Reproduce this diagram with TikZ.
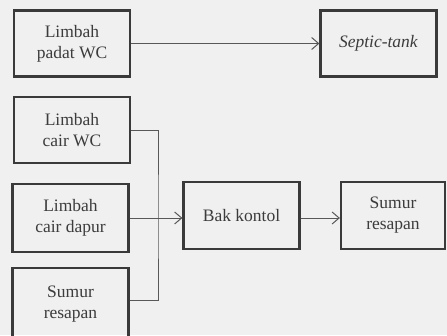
\documentclass[tikz,border=0pt]{standalone}
\usepackage{fontspec}
\setmainfont{Liberation Serif}
\usetikzlibrary{arrows.meta}

\definecolor{bggray}{HTML}{F0F0F0}
\definecolor{boxline}{HTML}{3A3A3A}
\definecolor{textgray}{HTML}{3C3C3C}

\begin{document}
\begin{tikzpicture}[
  x=1pt, y=-1pt,
  box/.style={rectangle, draw=boxline, line width=2.2pt, minimum width=116pt, minimum height=66pt,
    align=center, text=textgray, font=\fontsize{17.5}{21}\selectfont, inner sep=0pt},
  arrow/.style={-{Straight Barb[length=7pt,width=12pt]}, draw=boxline!85, line width=1pt},
  line/.style={draw=boxline!85, line width=1pt}
]

% Background
\fill[bggray] (0,0) rectangle (447,335);
\useasboundingbox (0,0) rectangle (447,335);

% Nodes
\node[box] (padat) at (72,43.5) {Limbah\\padat WC};
\node[box] (septic) at (378.5,43.5) {\textit{Septic-tank}};
\node[box] (cairwc) at (72,130) {Limbah\\cair WC};
\node[box, minimum height=68pt] (dapur) at (70.5,218) {Limbah\\cair dapur};
\node[box, minimum height=72pt] (sumurl) at (70.5,304) {Sumur\\resapan};
\node[box, minimum height=67pt] (bak) at (241.5,215.5) {Bak kontol};
\node[box, minimum height=67pt, minimum width=104pt] (sumurr) at (393,215.5) {Sumur\\resapan};
\coordinate (bus) at (158,218);

% Connectors
\draw[arrow] (padat) -- (septic);
\draw[line] (cairwc.east) -| (bus) |- (sumurl.east |- 0,300);
\draw[arrow] (dapur.east) -- (bak.west |- dapur.east);
\draw[arrow] (bak.east |- 0,218) -- (sumurr.west |- 0,218);

\end{tikzpicture}
\end{document}
